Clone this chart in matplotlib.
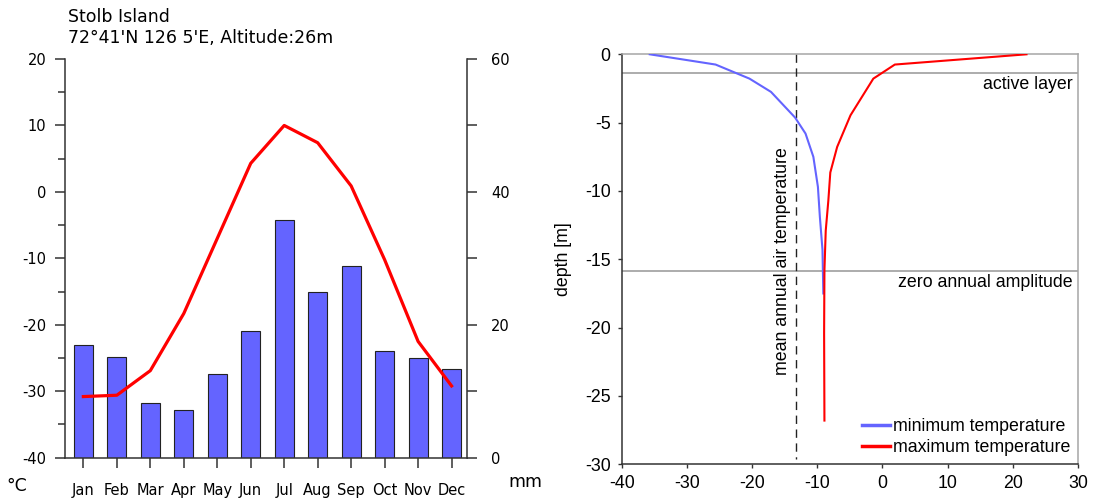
import matplotlib
matplotlib.use('Agg')
import matplotlib.pyplot as plt
from matplotlib.ticker import MultipleLocator


# ----------------------------------------------------------------------------------------
#                             DATA AREA

# climate diagram, monthly means
months        = ['Jan', 'Feb', 'Mar', 'Apr', 'May', 'Jun',
                 'Jul', 'Aug', 'Sep', 'Oct', 'Nov', 'Dec']
temperature   = [-30.8, -30.6, -26.9, -18.3, -7.0, 4.3, 10.0, 7.4, 0.9, -10.2, -22.5, -29.2]
precipitation = [17.0, 15.1, 8.3, 7.2, 12.6, 19.0, 35.7, 24.9, 28.9, 16.0, 15.0, 13.4]

# ground temperature envelope (depth in m, temperature in degC)
depth_min = [0, -0.75, -1.78, -2.75, -4.63, -5.8, -7.5, -9.7, -11.9, -14.3, -17.5]
temp_min  = [-35.7, -25.6, -20.4, -17.1, -13.4, -11.8, -10.6, -9.9, -9.6, -9.2, -9.07]
depth_max = [0, -0.75, -1.78, -4.46, -6.78, -8.65, -10.7, -12.9, -15.8, -20.4, -26.8]
temp_max  = [22.1, 1.9, -1.4, -4.9, -6.95, -8.0, -8.3, -8.7, -8.9, -8.95, -8.9]

mean_air_temp  = -13.3
active_layer   = -1.37
zero_amplitude = -15.85

station_name = 'Stolb Island'
station_info = "72°41'N 126 5'E, Altitude:26m"

plt.rcParams['axes.unicode_minus'] = False

DARK = '#333333'
GREY = '#a6a6a6'


# ----------------------------------------------------------------------------------------
#                             PLOTTING AREA


# Climate diagram : precipitation bars + temperature curve
# -----------------------------------------------------------------------
def plot_climate(fig):
    ax_t = fig.add_axes([0.0591, 0.0846, 0.3655, 0.7974])
    ax_p = ax_t.twinx()
    # temperature curve above the bars
    ax_t.set_zorder(ax_p.get_zorder() + 1)
    ax_t.patch.set_visible(False)

    x = list(range(len(months)))
    ax_p.bar(x, precipitation, width=0.57, color='#6464ff', edgecolor='#222222', linewidth=0.8)
    ax_t.plot(x, temperature, color='red', linewidth=2.3)

    ax_t.set_xlim(-0.55, 11.45)
    ax_t.set_ylim(-40, 20)
    ax_p.set_ylim(0, 60)

    ax_t.yaxis.set_major_locator(MultipleLocator(10))
    ax_t.yaxis.set_minor_locator(MultipleLocator(5))
    ax_p.yaxis.set_major_locator(MultipleLocator(20))
    ax_p.yaxis.set_minor_locator(MultipleLocator(10))
    ax_t.set_xticks(x)
    ax_t.set_xticklabels(months)

    for ax in (ax_t, ax_p):
        ax.spines['top'].set_visible(False)
        for s in ax.spines.values():
            s.set_color(DARK)
            s.set_linewidth(1.1)
    ax_t.spines['right'].set_visible(False)
    ax_p.spines['left'].set_visible(False)
    ax_p.spines['bottom'].set_visible(False)

    ax_t.tick_params(axis='y', which='major', length=7.5, width=1.1, color=DARK, pad=6, labelsize=10.5)
    ax_t.tick_params(axis='y', which='minor', length=5, width=1.1, color=DARK)
    ax_t.tick_params(axis='x', length=7.5, width=1.1, color=DARK, pad=11, labelsize=10.5)
    ax_p.tick_params(axis='y', which='both', length=7.5, width=1.1, color=DARK, pad=10, labelsize=10.5)

    fig.text(68 / 1099, 1 - 21.5 / 500, station_name, fontsize=12.5, va='baseline')
    fig.text(68 / 1099, 1 - 43 / 500, station_info, fontsize=12.5, va='baseline')
    fig.text(17 / 1099, 1 - 486 / 500, '°C', fontsize=12.5, ha='center', va='center')
    fig.text(525 / 1099, 1 - 482 / 500, 'mm', fontsize=12.5, ha='center', va='center')


# Ground temperature envelope (trumpet curve)
# -----------------------------------------------------------------------
def plot_trumpet(fig):
    font = 'Liberation Sans'
    size = 12.8
    ax = fig.add_axes([0.5657, 0.0714, 0.4152, 0.82])

    ax.axhline(active_layer, color=GREY, linewidth=1.3, zorder=1)
    ax.axhline(zero_amplitude, color=GREY, linewidth=1.3, zorder=1)
    ax.plot([mean_air_temp, mean_air_temp], [0, -29.6], color='#222222',
            linewidth=1, dashes=(6, 4), zorder=2)

    ax.plot(temp_min, depth_min, color='#6464ff', linewidth=1.5, label='minimum temperature', zorder=3)
    ax.plot(temp_max, depth_max, color='red', linewidth=1.5, label='maximum temperature', zorder=3)

    ax.set_xlim(-40, 30)
    ax.set_ylim(-30, 0)
    ax.xaxis.set_major_locator(MultipleLocator(10))
    ax.yaxis.set_major_locator(MultipleLocator(5))

    ax.spines['left'].set_color(DARK)
    ax.spines['bottom'].set_color(DARK)
    ax.spines['top'].set_color(GREY)
    ax.spines['right'].set_color(GREY)
    for s in ax.spines.values():
        s.set_linewidth(1.1)

    ax.tick_params(length=3, width=1, color=DARK, pad=5, labelsize=size)
    for lab in ax.get_xticklabels() + ax.get_yticklabels():
        lab.set_family(font)

    ax.set_ylabel('depth [m]', fontsize=size, family=font)
    ax.yaxis.set_label_coords(-0.11, 0.5)

    ax.text(29.2, active_layer - 0.25, 'active layer', ha='right', va='top',
            fontsize=size, family=font)
    ax.text(29.2, zero_amplitude - 0.25, 'zero annual amplitude', ha='right', va='top',
            fontsize=size, family=font)
    ax.text(mean_air_temp - 0.7, -15.1, 'mean annual air temperature', rotation=90,
            ha='right', va='center', fontsize=size, family=font)

    leg = ax.legend(loc='lower right', bbox_to_anchor=(1.0, 0.0), frameon=False,
                    prop={'family': font, 'size': size}, handlelength=1.6,
                    handletextpad=0.15, labelspacing=0.25, borderaxespad=0.05)
    for line in leg.get_lines():
        line.set_linewidth(2.5)


# ----------------------------------------------------------------------------------------
#                                    MAIN AREA


def main():
    fig = plt.figure(figsize=(10.99, 5.0), dpi=100)
    plot_climate(fig)
    plot_trumpet(fig)
    fig.savefig('out.png', dpi=100)


if __name__ == "__main__":
    main()
